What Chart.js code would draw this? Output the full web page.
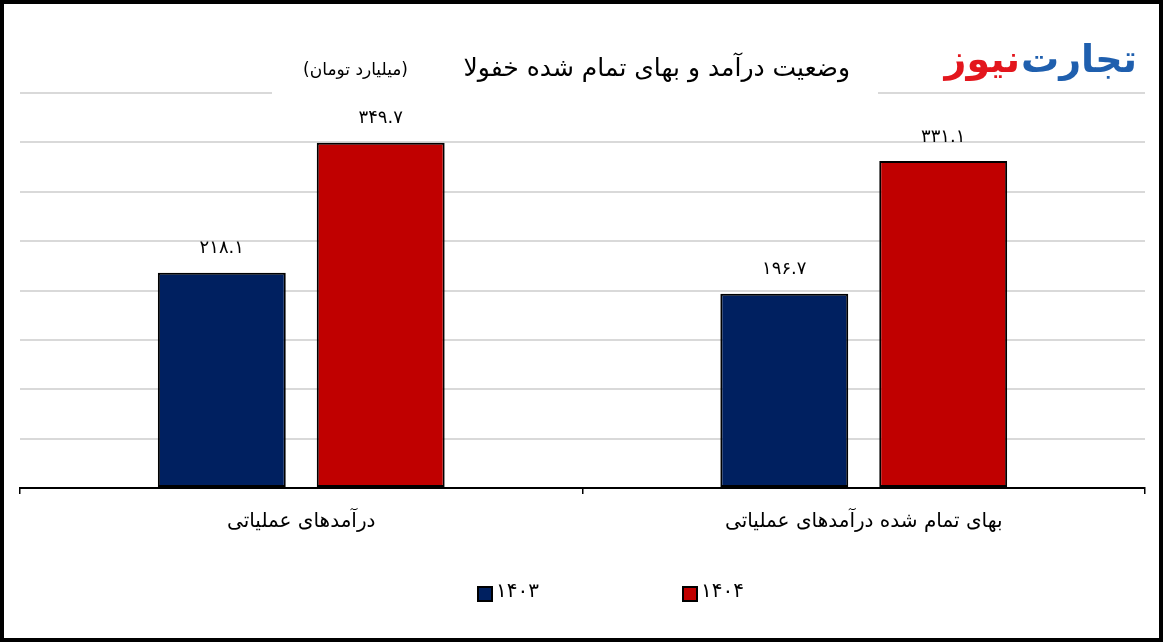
<!DOCTYPE html>
<html>
<head>
<meta charset="utf-8">
<script src="https://cdn.jsdelivr.net/npm/chart.js@4.4.1/dist/chart.umd.min.js"></script>
<style>
  html, body { margin: 0; padding: 0; background: #fff; }
  #wrap { width: 1163px; height: 642px; }
</style>
</head>
<body>
<div id="wrap"><canvas id="khfoolaChart" width="1163" height="642"></canvas></div>
<script>
const categories = ['درآمدهای عملیاتی', 'بهای تمام شده درآمدهای عملیاتی'];
const seriesNames = ['1403', '1404'];
const values1403 = [218.1, 196.7];
const values1404 = [349.7, 331.1];
const yTicks = [0, 50, 100, 150, 200, 250, 300, 350, 400];

const FONT = "'DejaVu Sans', sans-serif";

function toFa(s) {
  return String(s).replace(/[0-9]/g, d => '۰۱۲۳۴۵۶۷۸۹'[d]);
}

// labels above bars, title, logo, legend and frame
const decorPlugin = {
  id: 'decor',
  afterDatasetsDraw(chart) {
    const ctx = chart.ctx;
    ctx.save();
    ctx.fillStyle = '#000';
    ctx.font = '18px ' + FONT;
    ctx.textAlign = 'center';
    ctx.textBaseline = 'middle';
    chart.data.datasets.forEach((ds, i) => {
      chart.getDatasetMeta(i).data.forEach((bar, j) => {
        ctx.fillText(toFa(ds.data[j].toFixed(1)), bar.x, bar.y - 24);
      });
    });
    ctx.restore();
  },
  afterDraw(chart) {
    const ctx = chart.ctx;
    ctx.save();

    // title
    ctx.fillStyle = '#fff';
    ctx.fillRect(272, 36, 606, 62);
    ctx.fillStyle = '#000';
    ctx.direction = 'rtl';
    ctx.textAlign = 'right';
    ctx.textBaseline = 'alphabetic';
    ctx.font = '25px ' + FONT;
    ctx.fillText('وضعیت درآمد و بهای تمام شده خفولا', 850, 76);
    ctx.font = '17px ' + FONT;
    ctx.fillText('(میلیارد تومان)', 408, 75);

    // logo
    ctx.font = 'bold 38px ' + FONT;
    ctx.fillStyle = '#1f5fae';
    ctx.fillText('تجارت', 1137, 72);
    const w = ctx.measureText('تجارت').width;
    ctx.fillStyle = '#e3161d';
    ctx.fillText('نیوز', 1137 - w - 1, 72);

    // legend
    ctx.direction = 'ltr';
    ctx.textAlign = 'left';
    ctx.textBaseline = 'middle';
    ctx.font = '20px ' + FONT;
    const legendX = [478, 683];
    chart.data.datasets.forEach((ds, i) => {
      const x = legendX[i];
      ctx.fillStyle = ds.backgroundColor;
      ctx.fillRect(x, 587, 14, 14);
      ctx.strokeStyle = '#000';
      ctx.lineWidth = 2;
      ctx.strokeRect(x, 587, 14, 14);
      ctx.fillStyle = '#000';
      ctx.fillText(toFa(ds.label), x + 18, 592);
    });

    // frame
    ctx.strokeStyle = '#000';
    ctx.lineWidth = 4;
    ctx.strokeRect(2, 2, 1159, 638);
    ctx.restore();
  }
};

new Chart(document.getElementById('khfoolaChart'), {
  type: 'bar',
  data: {
    labels: categories,
    datasets: [{
      label: seriesNames[0],
      data: values1403,
      backgroundColor: '#002060',
      borderColor: '#000',
      borderWidth: 2,
      borderSkipped: false
    }, {
      label: seriesNames[1],
      data: values1404,
      backgroundColor: '#c00000',
      borderColor: '#000',
      borderWidth: 2,
      borderSkipped: false
    }]
  },
  options: {
    responsive: false,
    animation: false,
    layout: { padding: { left: 20, right: 18, top: 93, bottom: 92 } },
    datasets: {
      bar: { categoryPercentage: 0.565, barPercentage: 0.805 }
    },
    scales: {
      x: {
        grid: {
          offset: true,
          drawOnChartArea: false,
          tickLength: 6,
          color: '#000',
          lineWidth: 1.5
        },
        border: { color: '#000', width: 2 },
        ticks: {
          color: '#000',
          font: { family: FONT, size: 20 },
          padding: 16
        }
      },
      y: {
        min: 0,
        max: 400,
        afterBuildTicks(axis) {
          axis.ticks = yTicks.map(v => ({ value: v }));
        },
        ticks: { display: false },
        grid: { color: '#d9d9d9', lineWidth: 2, drawTicks: false },
        border: { display: false }
      }
    },
    plugins: {
      legend: { display: false },
      title: { display: false },
      tooltip: { enabled: false }
    }
  },
  plugins: [decorPlugin]
});
</script>
</body>
</html>
